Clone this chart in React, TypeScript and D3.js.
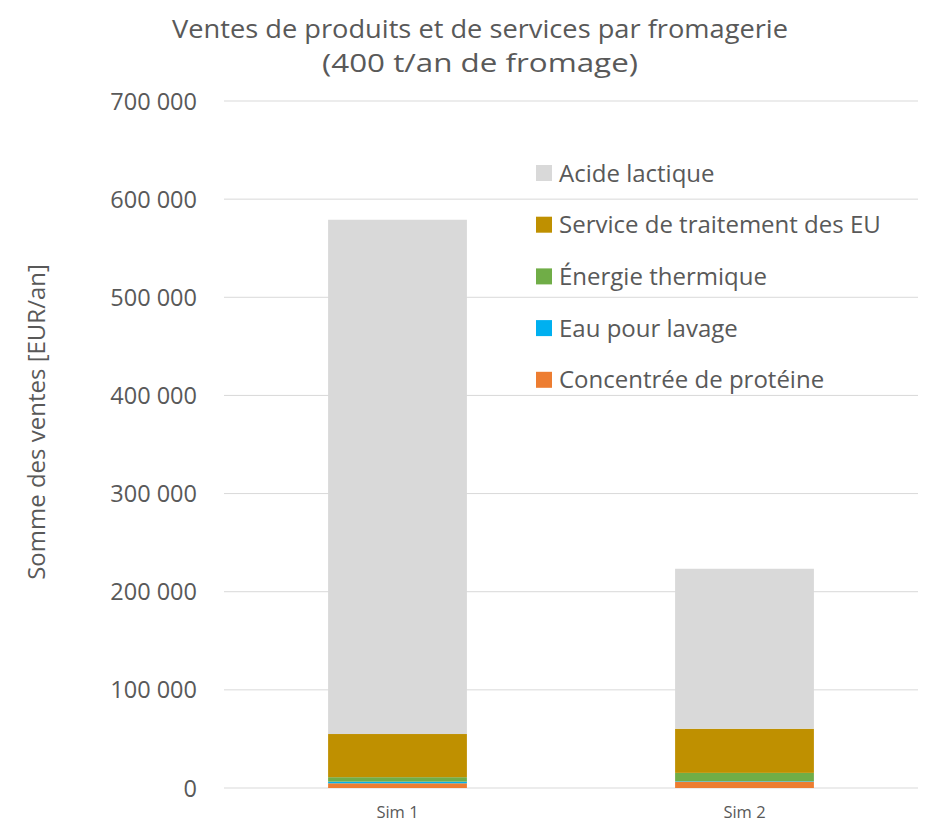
import React from "react";
import * as d3 from "d3";

const categories = ["Sim 1", "Sim 2"];
const seriesNames = ["Concentrée de protéine", "Eau pour lavage", "Énergie thermique", "Service de traitement des EU", "Acide lactique"];
const proteine = [4800, 6400];
const eau = [1700, 500];
const energie = [4500, 8500];
const service = [44000, 45000];
const acide = [524000, 163000];
const yTicks = [0, 100000, 200000, 300000, 400000, 500000, 600000, 700000];
const colors = ["#ed7d31", "#00b0f0", "#70ad47", "#bf9000", "#d9d9d9"];

const W = 926, H = 824;
const left = 224, right = 918, top = 101, bottom = 788;
const font = "Open Sans, sans-serif";

export default function App() {
  const x = d3.scaleBand().domain(categories).range([left, right]).paddingInner(0.6).paddingOuter(0.3);
  const y = d3.scaleLinear().domain([0, 700000]).range([bottom, top]);
  const rows = categories.map((c, i) => ({ cat: c, proteine: proteine[i], eau: eau[i], energie: energie[i], service: service[i], acide: acide[i] }));
  const keys = ["proteine", "eau", "energie", "service", "acide"];
  const stacked = d3.stack<any>().keys(keys)(rows);
  const fmt = (v: number) => v === 0 ? "0" : d3.format(",")(v).replace(/,/g, " ");
  const legendOrder = [4, 3, 2, 1, 0];
  return (
    <svg width={W} height={H} style={{ position: "absolute", left: 0, top: 0, background: "#fff" }}>
      <text x={480} y={38} textAnchor="middle" fontFamily={font} fontSize={25} textLength={616} lengthAdjust="spacingAndGlyphs" fill="#595959">Ventes de produits et de services par fromagerie</text>
      <text x={480} y={72} textAnchor="middle" fontFamily={font} fontSize={25} textLength={316} lengthAdjust="spacingAndGlyphs" fill="#595959">(400 t/an de fromage)</text>
      {yTicks.map(t => (
        <g key={t}>
          <line x1={left} x2={right} y1={y(t)} y2={y(t)} stroke="#d9d9d9" strokeWidth={1} />
          <text x={197} y={y(t) + 8.5} textAnchor="end" fontFamily={font} fontSize={23.5} fill="#595959">{fmt(t)}</text>
        </g>
      ))}
      {stacked.map((s, si) => s.map((d, i) => (
        <rect key={si + "-" + i} x={x(categories[i])} width={x.bandwidth()} y={y(d[1])} height={y(d[0]) - y(d[1])} fill={colors[si]} />
      )))}
      {categories.map(c => (
        <text key={c} x={(x(c) as number) + x.bandwidth() / 2} y={818} textAnchor="middle" fontFamily={font} fontSize={16.5} fill="#595959">{c}</text>
      ))}
      <text transform={`translate(45,422) rotate(-90)`} textAnchor="middle" fontFamily={font} fontSize={24} fill="#595959">Somme des ventes [EUR/an]</text>
      {legendOrder.map((si, k) => (
        <g key={si} transform={`translate(536,${173 + k * 51.7})`}>
          <rect x={0} y={-8} width={16} height={16} fill={colors[si]} />
          <text x={23} y={8.5} fontFamily={font} fontSize={24} fill="#595959">{seriesNames[si]}</text>
        </g>
      ))}
    </svg>
  );
}
